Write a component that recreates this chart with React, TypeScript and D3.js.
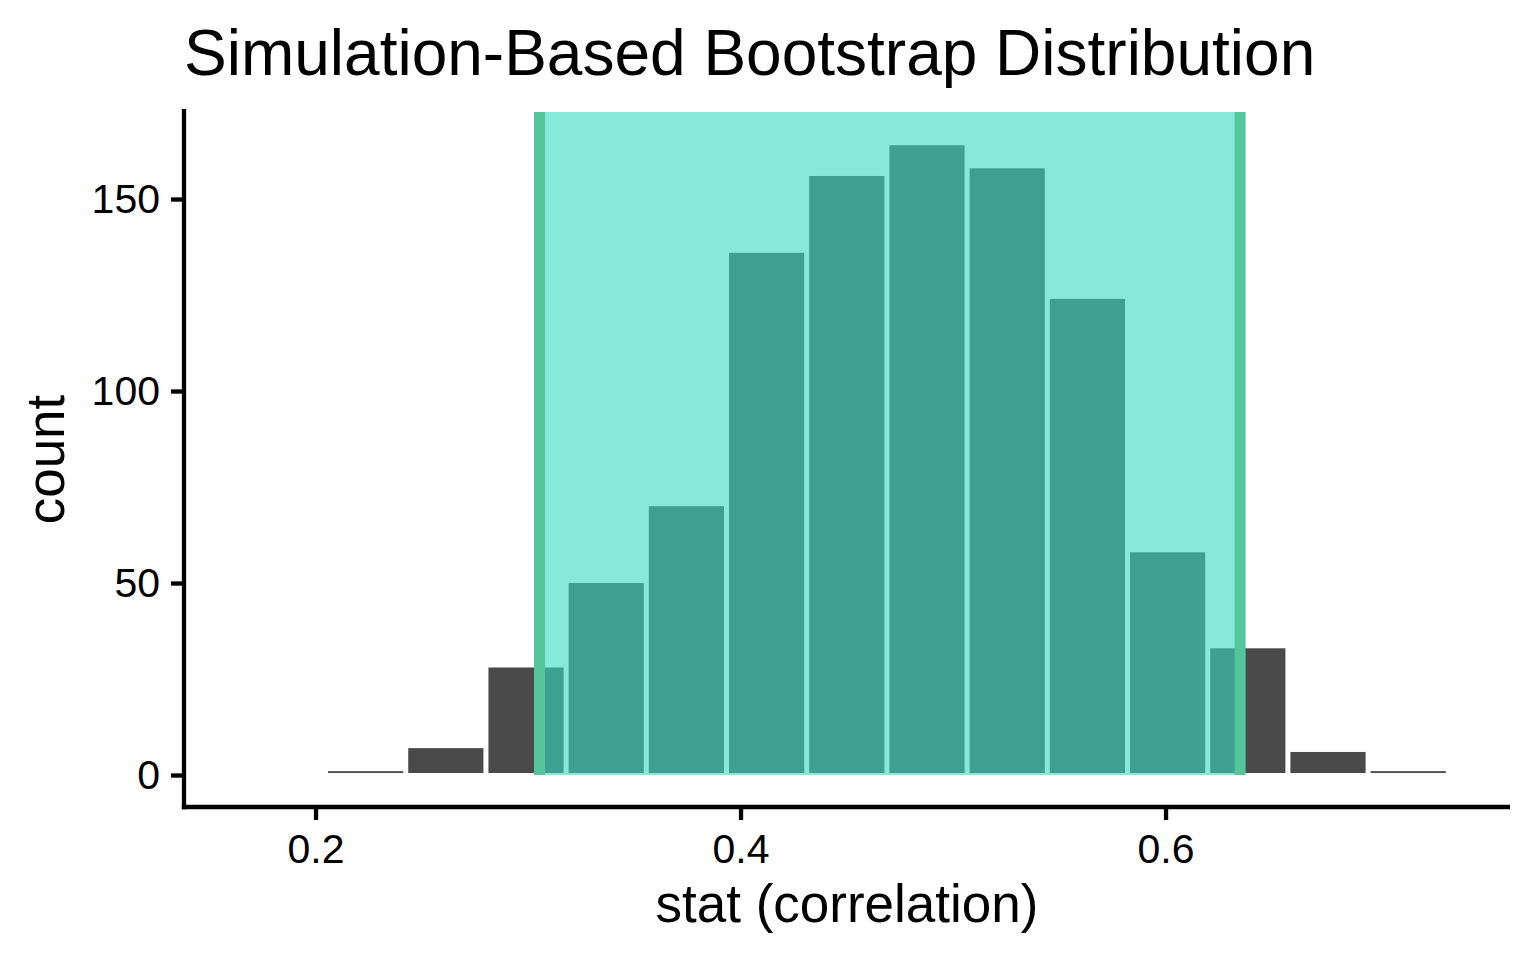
import * as d3 from 'd3';
import { useEffect, useRef } from 'react';

// histogram of bootstrap correlations
const binStart = 0.2047;
const binWidth = 0.03774;
const binCounts = [1, 7, 28, 50, 70, 136, 156, 164, 158, 124, 58, 33, 6, 1];

// 95% confidence interval
const ciBounds = [0.3054, 0.6351];

const xTicks = [0.2, 0.4, 0.6];
const yTicks = [0, 50, 100, 150];

const WIDTH = 1536;
const HEIGHT = 960;
const PANEL = { left: 184, right: 1510, top: 112, bottom: 807 };
const FONT = '"Liberation Sans", Arial, Helvetica, sans-serif';

type Bin = { x0: number; x1: number; count: number };

const bins: Bin[] = binCounts.map((count, i) => ({
  x0: binStart + i * binWidth,
  x1: binStart + (i + 1) * binWidth,
  count,
}));

export default function App() {
  const xAxisRef = useRef<SVGGElement | null>(null);
  const yAxisRef = useRef<SVGGElement | null>(null);

  const xScale = d3
    .scaleLinear()
    .domain([0.1381, 0.7621])
    .range([PANEL.left, PANEL.right]);
  const yScale = d3
    .scaleLinear()
    .domain([-8.33, 172.66])
    .range([PANEL.bottom, PANEL.top]);

  useEffect(() => {
    // X-axis
    const gx = d3.select(xAxisRef.current);
    gx.selectAll('*').remove();
    gx.call(
      d3
        .axisBottom(xScale)
        .tickValues(xTicks)
        .tickFormat(d3.format('.1f'))
        .tickSize(13)
        .tickPadding(14)
    );
    gx.select('.domain').remove();
    gx.selectAll('line').attr('stroke', '#000').attr('stroke-width', 4.3);
    gx.selectAll('text')
      .attr('fill', '#000')
      .style('font-size', '41px')
      .style('font-family', FONT);

    // Y-axis
    const gy = d3.select(yAxisRef.current);
    gy.selectAll('*').remove();
    gy.call(
      d3.axisLeft(yScale).tickValues(yTicks).tickSize(13).tickPadding(11)
    );
    gy.select('.domain').remove();
    gy.selectAll('line').attr('stroke', '#000').attr('stroke-width', 4.3);
    gy.selectAll('text')
      .attr('fill', '#000')
      .style('font-size', '41px')
      .style('font-family', FONT);
  }, []);

  const y0 = yScale(0);

  return (
    <svg
      width={WIDTH}
      height={HEIGHT}
      style={{ position: 'absolute', left: 0, top: 0, background: '#fff' }}
    >
      <rect width={WIDTH} height={HEIGHT} fill="#fff" />

      {/* histogram bars, white gaps between them */}
      {bins.map((b, i) => {
        const left = xScale(b.x0) + 2.5;
        const right = xScale(b.x1) - 2.5;
        const top = yScale(b.count);
        const bottom = y0 - 2;
        return (
          <rect
            key={i}
            x={left}
            y={top}
            width={right - left}
            height={Math.max(bottom - top, 1.6)}
            fill="#4a4a4a"
          />
        );
      })}

      {/* shaded confidence interval */}
      <rect
        x={xScale(ciBounds[0])}
        y={PANEL.top}
        width={xScale(ciBounds[1]) - xScale(ciBounds[0])}
        height={y0 - PANEL.top}
        fill="rgb(55,219,193)"
        fillOpacity={0.6}
      />
      {ciBounds.map((v, i) => (
        <line
          key={i}
          x1={xScale(v)}
          x2={xScale(v)}
          y1={PANEL.top}
          y2={y0}
          stroke="#55c59a"
          strokeWidth={11}
        />
      ))}

      {/* axis lines */}
      <line
        x1={PANEL.left}
        x2={PANEL.left}
        y1={PANEL.top - 3}
        y2={PANEL.bottom + 2.15}
        stroke="#000"
        strokeWidth={4.3}
      />
      <line
        x1={PANEL.left - 2.15}
        x2={PANEL.right}
        y1={PANEL.bottom}
        y2={PANEL.bottom}
        stroke="#000"
        strokeWidth={4.3}
      />
      <g ref={xAxisRef} transform={`translate(0, ${PANEL.bottom})`} />
      <g ref={yAxisRef} transform={`translate(${PANEL.left}, 0)`} />

      {/* titles */}
      <text
        x={184}
        y={75}
        fontFamily={FONT}
        fontSize={64}
        fill="#000"
      >
        Simulation-Based Bootstrap Distribution
      </text>
      <text
        x={(PANEL.left + PANEL.right) / 2}
        y={922}
        textAnchor="middle"
        fontFamily={FONT}
        fontSize={53}
        fill="#000"
      >
        stat (correlation)
      </text>
      <text
        transform={`translate(64, ${(PANEL.top + PANEL.bottom) / 2}) rotate(-90)`}
        textAnchor="middle"
        fontFamily={FONT}
        fontSize={53}
        fill="#000"
      >
        count
      </text>
    </svg>
  );
}
